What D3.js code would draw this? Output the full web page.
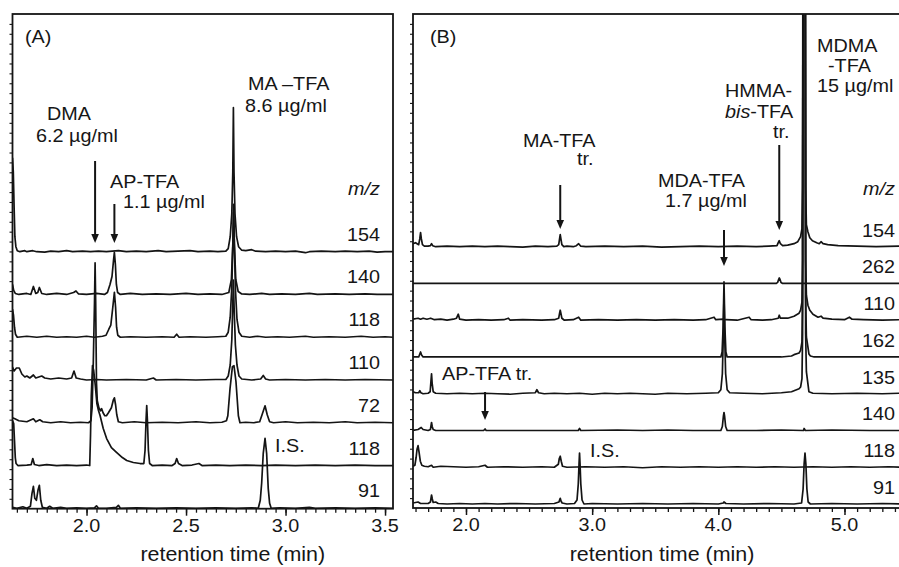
<!DOCTYPE html>
<html>
<head>
<meta charset="utf-8">
<script src="https://cdnjs.cloudflare.com/ajax/libs/d3/7.8.5/d3.min.js"></script>
<style>
  body { margin: 0; background: #fff; }
  svg { display: block; }
  text { font-family: "Liberation Sans", Arial, Helvetica, sans-serif; fill: #161616; }
</style>
</head>
<body>
<svg id="chart" width="899" height="567"></svg>
<script>
// ---------- data: ion chromatograms, [retention time (min), abundance] ----------
// Panel A: amphetamine-type sample
const massesA = ["154", "140", "118", "110", "72", "118", "91"];
const tickLabelsA = ["2.0", "2.5", "3.0", "3.5"];

const a154 = [[1.628,94],[1.632,80],[1.636,45],[1.640,15],[1.645,5],[1.652,1],[1.665,0],[1.69,1],[1.70,0],[1.73,1],[1.75,0],[1.79,-0.5],[1.82,0.5],[1.86,0],[1.90,1],[1.93,0],[1.98,0.5],[2.02,0],[2.06,0.5],[2.10,0],[2.16,1],[2.20,0],[2.25,0.5],[2.30,0],[2.36,1],[2.40,0],[2.46,0.5],[2.52,1],[2.56,0],[2.62,0.5],[2.66,0],[2.70,0.5],[2.712,3],[2.722,15],[2.730,38],[2.735,80],[2.738,144],[2.741,80],[2.746,38],[2.754,15],[2.764,5],[2.78,1.5],[2.80,1],[2.83,2],[2.85,0.5],[2.90,0],[2.95,0.5],[3.00,0],[3.05,0.5],[3.10,-1],[3.12,0],[3.18,0.5],[3.25,0],[3.30,0.5],[3.36,0],[3.42,0.5],[3.46,-0.5],[3.50,0],[3.54,0]];
const a140 = [[1.628,10],[1.634,4],[1.642,1],[1.66,0],[1.70,1],[1.72,0],[1.733,8],[1.745,1],[1.755,2],[1.763,7],[1.775,1],[1.80,0],[1.85,1],[1.90,0],[1.935,2],[1.947,3.5],[1.96,0.5],[2.00,0],[2.05,1],[2.09,0],[2.105,2],[2.118,10],[2.128,18],[2.136,35],[2.140,42],[2.145,30],[2.150,10],[2.156,2],[2.17,0],[2.22,1],[2.28,0],[2.35,0.5],[2.42,0],[2.50,1],[2.56,0],[2.62,0.5],[2.68,0],[2.715,2],[2.728,15],[2.735,50],[2.739,90],[2.743,50],[2.750,15],[2.762,3],[2.78,0.5],[2.82,0],[2.88,1],[2.92,0],[2.98,0.5],[3.05,0],[3.12,1],[3.16,0],[3.25,0.5],[3.32,0],[3.40,0.5],[3.46,0],[3.54,0]];
const a118 = [[1.628,28],[1.633,22],[1.638,10],[1.643,3],[1.652,0],[1.70,1],[1.75,0],[1.80,1],[1.85,0],[1.90,0.5],[1.95,0],[2.00,1],[2.04,0],[2.08,1],[2.098,2],[2.112,8],[2.122,12],[2.132,30],[2.140,45],[2.146,30],[2.151,10],[2.157,2],[2.17,0],[2.22,0.5],[2.30,0],[2.38,0.5],[2.44,0],[2.453,3],[2.465,0],[2.52,0.5],[2.60,0],[2.66,0.5],[2.70,1],[2.712,5],[2.722,20],[2.730,50],[2.735,90],[2.739,125],[2.743,90],[2.749,45],[2.756,18],[2.766,5],[2.78,1],[2.82,0],[2.86,1],[2.90,0],[2.96,0.5],[3.02,0],[3.10,1],[3.14,0],[3.22,0.5],[3.30,0],[3.38,1],[3.44,0],[3.50,0.5],[3.54,0]];
const a110 = [[1.628,13],[1.636,9],[1.648,12],[1.662,12],[1.675,6],[1.69,3],[1.70,4],[1.715,2],[1.733,5],[1.745,2],[1.76,3],[1.775,4],[1.79,2],[1.82,1],[1.86,2],[1.90,1],[1.925,2],[1.937,9],[1.948,2],[1.97,1],[2.00,0],[2.05,0.5],[2.10,0],[2.20,0.5],[2.30,0],[2.336,2],[2.35,0],[2.45,0.5],[2.55,0],[2.65,0.5],[2.70,0.5],[2.712,4],[2.722,15],[2.730,40],[2.734,70],[2.738,100],[2.742,70],[2.748,35],[2.756,15],[2.766,4],[2.78,1],[2.83,0],[2.875,1],[2.888,4.5],[2.90,1],[2.92,0],[3.00,0.5],[3.10,0],[3.20,0.5],[3.30,0],[3.40,0.5],[3.54,0]];
const a72 = [[1.628,5],[1.64,4],[1.66,2],[1.70,1],[1.733,4],[1.745,1],[1.765,3],[1.78,1],[1.82,0],[1.87,1],[1.92,0],[1.97,0.5],[2.01,0],[2.022,2],[2.028,15],[2.034,60],[2.040,120],[2.043,160],[2.046,120],[2.050,40],[2.054,22],[2.062,15],[2.070,12],[2.076,14],[2.083,10],[2.092,7],[2.100,7],[2.110,10],[2.125,15],[2.135,23],[2.140,25],[2.146,18],[2.152,8],[2.160,1],[2.18,0],[2.24,1],[2.30,0],[2.38,0.5],[2.46,0],[2.55,1],[2.62,0],[2.68,0.5],[2.703,2],[2.710,7],[2.721,34],[2.733,56],[2.741,57],[2.751,41],[2.763,7],[2.771,0],[2.80,0.5],[2.84,0],[2.870,1],[2.882,8],[2.897,17],[2.908,8],[2.920,1],[2.94,0],[3.00,1],[3.06,0],[3.14,0.5],[3.22,0],[3.30,1],[3.36,0],[3.45,0.5],[3.54,0]];
const a118b = [[1.628,45],[1.634,42],[1.638,25],[1.642,8],[1.646,2],[1.655,0],[1.70,0.5],[1.722,1],[1.730,7],[1.738,1],[1.76,0],[1.80,1],[1.85,0],[1.90,0.5],[1.95,0],[2.00,0.5],[2.016,0],[2.020,30],[2.024,70],[2.030,100],[2.036,95],[2.044,80],[2.052,62],[2.060,55],[2.068,50],[2.084,37],[2.101,27],[2.125,18],[2.152,13],[2.18,8],[2.202,5],[2.235,3],[2.269,2],[2.288,2],[2.294,15],[2.299,45],[2.3025,60],[2.306,45],[2.311,15],[2.317,2],[2.33,0],[2.38,0.5],[2.43,0],[2.445,2],[2.453,7],[2.462,2],[2.48,0],[2.53,0.5],[2.565,2],[2.58,0],[2.65,0.5],[2.72,0],[2.80,0.5],[2.88,0],[2.95,0.5],[3.05,0],[3.15,0.5],[3.25,0],[3.35,0.5],[3.45,0],[3.54,0]];
const a91 = [[1.628,1],[1.65,0],[1.68,1.5],[1.70,0],[1.718,2],[1.726,15],[1.733,22],[1.740,10],[1.748,8],[1.756,18],[1.763,23],[1.770,8],[1.778,1],[1.80,0],[1.815,2],[1.83,0],[1.87,1],[1.90,0],[1.95,0.5],[2.00,0],[2.04,0.5],[2.05,2.5],[2.06,0],[2.10,0],[2.15,1],[2.16,3],[2.17,0],[2.25,0.5],[2.35,0],[2.45,0.5],[2.55,0],[2.65,0.5],[2.75,0],[2.83,0.5],[2.863,0],[2.873,8],[2.880,25],[2.888,55],[2.897,70],[2.905,55],[2.913,20],[2.920,5],[2.928,0],[2.97,0.5],[3.05,0],[3.12,1],[3.15,0],[3.25,0.5],[3.35,0],[3.45,0.5],[3.54,0]];

// Panel B: MDMA-type sample (the MDMA-TFA peak runs off scale)
const massesB = ["154", "262", "110", "162", "135", "140", "118", "91"];
const tickLabelsB = ["2.0", "3.0", "4.0", "5.0"];

const b154 = [[1.58,3],[1.60,4],[1.625,2],[1.634,8],[1.640,14],[1.646,8],[1.655,2],[1.67,0.5],[1.70,0.5],[1.718,1],[1.727,3],[1.736,1],[1.76,0],[1.85,0.5],[1.95,0],[2.05,0.5],[2.15,0],[2.25,0.5],[2.35,0],[2.45,-0.5],[2.55,0.5],[2.65,0],[2.72,0.5],[2.735,2],[2.742,8],[2.747,12],[2.752,8],[2.760,2],[2.775,0],[2.80,0.5],[2.85,0],[2.875,1],[2.893,3],[2.91,0.5],[2.95,0],[3.10,0.5],[3.25,0],[3.40,0.5],[3.55,-0.5],[3.70,0],[3.85,0.5],[4.00,0],[4.15,0.5],[4.30,0],[4.40,0.5],[4.465,1],[4.475,4],[4.483,6],[4.492,3],[4.51,1],[4.55,1.5],[4.60,3],[4.63,5],[4.652,10],[4.663,18],[4.668,60],[4.671,400],[4.689,400],[4.692,60],[4.698,22],[4.710,15],[4.725,9],[4.746,6],[4.78,4],[4.80,3],[4.814,5],[4.83,3],[4.867,2],[4.95,1],[5.10,0.5],[5.25,0],[5.44,0.5]];
const b262 = [[1.58,0],[2.0,0],[3.0,0],[4.0,0],[4.46,0],[4.470,1],[4.478,4],[4.483,5.5],[4.489,4],[4.497,1],[4.51,0],[5.44,0]];
const b110 = [[1.58,1],[1.62,2],[1.64,1],[1.66,2],[1.69,1],[1.72,2],[1.75,0.5],[1.80,1],[1.85,0],[1.90,1],[1.925,2],[1.939,6],[1.950,1],[2.0,0],[2.1,0.5],[2.2,0],[2.30,0.5],[2.336,2],[2.35,0],[2.45,0.5],[2.60,0],[2.70,0.5],[2.735,2],[2.742,7],[2.747,10],[2.752,7],[2.760,2],[2.78,0],[2.85,0.5],[2.893,3],[2.91,0],[3.05,0.5],[3.20,0],[3.35,0.5],[3.50,0],[3.65,0.5],[3.80,0],[3.90,0.5],[3.966,3],[3.98,0.5],[4.04,1],[4.06,0.5],[4.15,0],[4.244,3],[4.26,0.5],[4.35,0],[4.42,0.5],[4.475,2],[4.483,5],[4.492,2],[4.55,2],[4.60,4],[4.64,7],[4.652,10],[4.663,18],[4.668,60],[4.671,400],[4.689,400],[4.692,60],[4.698,25],[4.710,15],[4.725,10],[4.75,6],[4.79,3],[4.814,4],[4.83,2],[4.90,1],[5.00,0.5],[5.039,3],[5.06,1],[5.15,0.5],[5.30,0],[5.44,0.5]];
const b162 = [[1.58,0],[1.625,0],[1.634,3],[1.640,5],[1.648,2],[1.66,0],[2.0,0],[3.0,0],[3.9,0],[4.02,0],[4.030,5],[4.038,30],[4.045,75],[4.052,30],[4.060,5],[4.07,0],[4.50,0],[4.58,1],[4.60,2.3],[4.640,4],[4.652,6.6],[4.663,15],[4.668,60],[4.671,400],[4.689,400],[4.692,60],[4.698,20],[4.710,10],[4.718,3],[4.73,1],[4.76,0],[5.44,0]];
const b135 = [[1.58,2],[1.60,1],[1.625,1],[1.634,3],[1.642,1],[1.66,0],[1.70,0.5],[1.716,2],[1.722,12],[1.727,20],[1.732,10],[1.740,2],[1.76,0.5],[1.85,0],[1.95,0.5],[2.05,0],[2.15,0.5],[2.25,0],[2.35,-0.5],[2.45,0.5],[2.55,1],[2.562,4],[2.575,1],[2.62,0],[2.70,0.5],[2.80,0],[2.90,0.5],[3.00,-0.5],[3.10,0.5],[3.20,0],[3.30,0.5],[3.40,0],[3.50,-0.5],[3.60,0.5],[3.75,0],[3.90,0.5],[4.00,1],[4.020,4],[4.032,20],[4.040,60],[4.045,100],[4.050,60],[4.058,20],[4.070,4],[4.09,1],[4.20,0.5],[4.35,0],[4.50,1],[4.58,2],[4.60,3],[4.640,5],[4.652,6.7],[4.663,15],[4.668,60],[4.671,400],[4.689,400],[4.692,60],[4.698,22],[4.710,10],[4.718,2],[4.75,0.5],[4.90,0],[5.10,0.5],[5.30,0],[5.44,0.5]];
const b140 = [[1.58,0],[1.62,1],[1.645,3],[1.66,1],[1.70,0],[1.718,1],[1.722,4],[1.727,8],[1.732,4],[1.740,1],[1.76,0],[1.90,0],[2.0,0],[2.14,0],[2.151,1.5],[2.16,0],[2.50,0],[2.89,0],[2.90,2],[2.91,0],[3.20,0.5],[3.40,0],[3.60,0.5],[3.80,0],[4.02,0],[4.032,4],[4.040,14],[4.045,18],[4.050,14],[4.058,4],[4.070,0],[4.30,0],[4.50,0.5],[4.675,0],[4.680,2],[4.69,0],[4.90,0.5],[5.20,0],[5.44,0]];
const b118 = [[1.58,1],[1.595,2],[1.605,10],[1.612,18],[1.620,21.6],[1.628,15],[1.638,6],[1.650,2],[1.67,1],[1.70,0.5],[1.727,2],[1.74,0],[1.80,1],[1.90,0.5],[2.0,0],[2.1,0.5],[2.151,2],[2.17,0],[2.3,0.5],[2.45,0],[2.6,0.5],[2.70,0],[2.732,3],[2.740,9],[2.747,11],[2.755,6],[2.765,1],[2.80,0],[2.95,0.5],[3.10,0],[3.25,0.5],[3.40,-0.5],[3.55,0.5],[3.70,0],[3.85,0.5],[4.00,0],[4.15,0.5],[4.30,0],[4.45,0.5],[4.60,0],[4.75,0.5],[4.90,0],[5.05,0.5],[5.20,0],[5.35,0.5],[5.44,0]];
const b91 = [[1.58,1],[1.62,2],[1.64,0.5],[1.70,0.5],[1.718,2],[1.722,5],[1.727,9],[1.733,5],[1.740,1.5],[1.76,2],[1.78,0.5],[1.85,0],[1.95,0.5],[2.05,0],[2.15,0.5],[2.25,0],[2.40,0.5],[2.55,0],[2.70,0.5],[2.737,2],[2.742,4],[2.747,5.7],[2.753,3],[2.762,1],[2.80,0],[2.86,0.5],[2.880,4],[2.890,20],[2.896,40],[2.900,51],[2.904,40],[2.910,20],[2.920,4],[2.935,0],[3.00,0.5],[3.20,0],[3.40,0.5],[3.60,0],[3.80,0.5],[4.00,0],[4.04,1],[4.045,2],[4.06,0.5],[4.20,0],[4.40,0.5],[4.60,0],[4.66,1],[4.672,15],[4.680,40],[4.687,51],[4.694,40],[4.702,15],[4.712,2],[4.73,0],[4.90,0.5],[5.10,0],[5.30,0.5],[5.44,0]];

const tracesA = [a154, a140, a118, a110, a72, a118b, a91];
const tracesB = [b154, b262, b110, b162, b135, b140, b118, b91];

// ---------- drawing ----------
const svg = d3.select("#chart");
const SX = 1.1;          // horizontal stretch of the lettering
const INK = "#141414";

function label(g, x, y, s, anchor = "start", size = 18) {
  return g.append("text")
    .attr("transform", `translate(${x},${y}) scale(${SX},1)`)
    .attr("text-anchor", anchor)
    .style("font-size", size + "px")
    .text(s);
}

function arrow(g, x, y1, y2) {
  g.append("line").attr("x1", x).attr("x2", x).attr("y1", y1).attr("y2", y2 - 7)
    .attr("stroke", INK).attr("stroke-width", 2);
  g.append("path")
    .attr("d", `M${x - 3.8},${y2 - 9} L${x + 3.8},${y2 - 9} L${x},${y2} Z`)
    .attr("fill", INK);
}

// intensity -> pixel height (same gain for every trace)
const gain = d3.scaleLinear().domain([0, 100]).range([0, 100]);

function panel(cfg) {
  const g = svg.append("g");
  const x = d3.scaleLinear().domain(cfg.domain).range([cfg.left, cfg.right]);
  const offset = d3.scalePoint().domain(d3.range(cfg.masses.length)).range(cfg.baselines);

  const clipId = "clip-" + cfg.id;
  svg.append("clipPath").attr("id", clipId)
    .append("rect").attr("x", cfg.left).attr("y", cfg.top)
    .attr("width", cfg.right - cfg.left).attr("height", cfg.bottom - cfg.top);

  const traceG = g.append("g").attr("clip-path", `url(#${clipId})`);
  cfg.traces.forEach((tr, i) => {
    const line = d3.line()
      .x(d => x(d[0]))
      .y(d => offset(i) - gain(d[1]));
    traceG.append("path").datum(tr)
      .attr("d", line)
      .attr("fill", "none")
      .attr("stroke", INK)
      .attr("stroke-width", 1.7)
      .attr("stroke-linejoin", "round");
  });

  // m/z labels
  label(g, cfg.labelX, cfg.mzY, "m/z", "end").style("font-style", "italic");
  cfg.masses.forEach((m, i) => label(g, cfg.labelX, offset(i) - cfg.labelGap, m, "end"));

  // bottom axis: minor ticks, then labelled major ticks
  const axisG = g.append("g").attr("transform", `translate(0,${cfg.bottom})`);
  const minor = d3.range(cfg.domain[0], cfg.domain[1], cfg.minorStep)
    .map(v => Math.round(v / cfg.minorStep) * cfg.minorStep)
    .filter(v => v > cfg.domain[0] && v < cfg.domain[1]);
  axisG.call(d3.axisBottom(x).tickValues(minor).tickSize(4).tickFormat(""))
    .call(a => a.select(".domain").remove())
    .call(a => a.selectAll("line").attr("stroke", INK).attr("stroke-width", 1.3));
  const majorG = g.append("g").attr("transform", `translate(0,${cfg.bottom})`);
  majorG.call(d3.axisBottom(x).tickValues(cfg.ticks.map(Number)).tickSize(7).tickFormat(""))
    .call(a => a.select(".domain").remove())
    .call(a => a.selectAll("line").attr("stroke", INK).attr("stroke-width", 1.5));
  cfg.ticks.forEach(t => label(g, x(+t), cfg.bottom + 23, t, "middle"));

  // left-side ticks
  const yAx = d3.scaleLinear().domain([0, 1]).range([cfg.bottom, cfg.top]);
  g.append("g").attr("transform", `translate(${cfg.left},0)`)
    .call(d3.axisLeft(yAx).tickValues(d3.range(0.02, 1, 0.02)).tickSize(3).tickFormat(""))
    .call(a => a.select(".domain").remove())
    .call(a => a.selectAll("line").attr("stroke", INK).attr("stroke-width", 1.1));

  // frame
  g.append("rect").attr("x", cfg.left).attr("y", cfg.top)
    .attr("width", cfg.right - cfg.left).attr("height", cfg.bottom - cfg.top)
    .attr("fill", "none").attr("stroke", INK).attr("stroke-width", 1.8);

  label(g, (cfg.left + Math.min(cfg.right, 899)) / 2 + cfg.titleShift, 561, "retention time (min)", "middle", 19.5);
  return { g, x, offset };
}

// Panel A
const A = panel({
  id: "a", left: 12.5, right: 393, top: 14, bottom: 508.7,
  domain: [1.628, 3.54], baselines: [251.7, 508.3],
  masses: massesA, traces: tracesA, ticks: tickLabelsA, minorStep: 0.05,
  labelX: 380, labelGap: 11, mzY: 195, titleShift: 30
});
label(A.g, 25, 43, "(A)");
label(A.g, 47, 120, "DMA");
label(A.g, 36, 141.5, "6.2 µg/ml");
arrow(A.g, A.x(2.043), 161, 243);
label(A.g, 110, 188, "AP-TFA");
label(A.g, 123, 208, "1.1 µg/ml");
arrow(A.g, A.x(2.140), 204, 243);
label(A.g, 248, 90, "MA \u2013TFA");
label(A.g, 245, 111.5, "8.6 µg/ml");
label(A.g, 275, 451.5, "I.S.");

// Panel B
const B = panel({
  id: "b", left: 413, right: 900, top: 14, bottom: 508,
  domain: [1.58, 5.44], baselines: [246.7, 504],
  masses: massesB, traces: tracesB, ticks: tickLabelsB, minorStep: 0.1,
  labelX: 895, labelGap: 10, mzY: 195, titleShift: 6
});
label(B.g, 430, 43, "(B)");
label(B.g, 523, 146.5, "MA-TFA");
label(B.g, 577, 165, "tr.");
arrow(B.g, B.x(2.747), 185, 229);
label(B.g, 658, 186.5, "MDA-TFA");
label(B.g, 665, 206.5, "1.7 µg/ml");
arrow(B.g, B.x(4.045), 230, 266);
label(B.g, 725, 96.5, "HMMA-");
const bis = label(B.g, 725, 118, "");
bis.append("tspan").style("font-style", "italic").text("bis");
bis.append("tspan").text("-TFA");
label(B.g, 773, 138, "tr.");
arrow(B.g, B.x(4.483), 145, 230);
label(B.g, 817, 51.5, "MDMA");
label(B.g, 828, 71.5, "-TFA");
label(B.g, 817, 91.5, "15 µg/ml");
label(B.g, 442, 380, "AP-TFA tr.");
arrow(B.g, B.x(2.151), 392, 420);
label(B.g, 590, 456.5, "I.S.");
</script>
</body>
</html>
